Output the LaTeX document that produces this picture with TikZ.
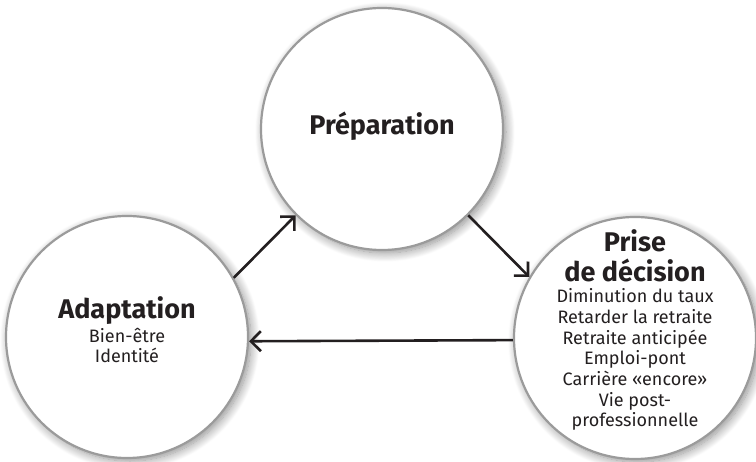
\documentclass[tikz,border=0pt]{standalone}
\usepackage{fontspec}
\setmainfont{Fira Sans}
\usetikzlibrary{arrows.meta,shadows.blur}
\definecolor{ink}{HTML}{231F20}
\definecolor{rim}{HTML}{9B9B9B}

\tikzset{
  stage/.style={circle,draw=rim,line width=2.2pt,fill=white,minimum size=242pt,inner sep=0pt,
    blur shadow={shadow xshift=3pt,shadow yshift=-3pt,shadow opacity=45,shadow blur steps=12,shadow blur radius=9pt}},
  flow/.style={draw=ink,line width=2.6pt,-{Straight Barb[length=10pt,width=20pt,line width=2.6pt]}},
  heading/.style={text=ink,font=\bfseries\fontsize{27}{30}\selectfont,align=center,anchor=base,inner sep=0pt},
  items/.style={text=ink,font=\fontsize{18}{20.7}\selectfont,align=center,anchor=base,inner sep=0pt}
}

\begin{document}
\begin{tikzpicture}[x=1pt,y=-1pt]
\useasboundingbox (0,0) rectangle (756,462);
\node[stage] (prep) at (382,129) {};
\node[stage] (adapt) at (127,337) {};
\node[stage] (dec) at (635,338) {};
\node[heading] (prepT) at (382,135) {Préparation};
\node[heading] (adaptT) at (127,319) {Adaptation};
\node[items] (adaptL) at (127,363) {Bien-être\\Identité};
\node[heading] (decT) at (635,282) {Prise\\de décision};
\node[items] (decL) at (635,427) {Diminution du taux\\Retarder la retraite\\Retraite anticipée\\Emploi-pont\\Carrière «encore»\\Vie post-\\professionnelle};
\draw[flow] (adapt.29) -- (prep.225);
\draw[flow] (prep.315) -- (dec.150);
\draw[flow] (dec.181) -- (adapt.-2);
\end{tikzpicture}
\end{document}
